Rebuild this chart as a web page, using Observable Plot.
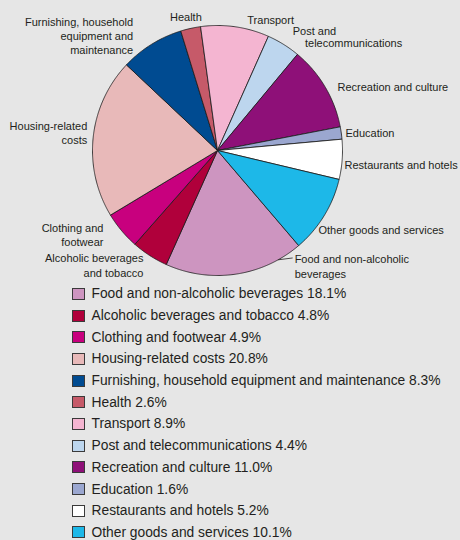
<!DOCTYPE html>
<html><head><meta charset="utf-8">
<script src="https://cdn.jsdelivr.net/npm/d3@7"></script>
<script src="https://cdn.jsdelivr.net/npm/@observablehq/plot@0.6"></script>
<style>
html,body{margin:0;padding:0;background:#e6e6e6;}
#chart{width:460px;}
#chart svg{display:block;background:#e6e6e6;}
#legend{font-family:"Liberation Sans",Arial,sans-serif;font-size:13.8px;color:#231f20;}
.row{display:flex;align-items:center;height:21.7px;padding-left:72px;}
.sw{width:13px;height:12px;box-sizing:border-box;border:1px solid #3a3a3a;margin-right:6.5px;flex:none;}
</style></head><body>
<div id="chart"></div>
<div id="legend"></div>
<script>
const categories = ["Food and non-alcoholic beverages","Alcoholic beverages and tobacco","Clothing and footwear","Housing-related costs","Furnishing, household equipment and maintenance","Health","Transport","Post and telecommunications","Recreation and culture","Education","Restaurants and hotels","Other goods and services"];
const shares = [18.1, 4.8, 4.9, 20.8, 8.3, 2.6, 8.9, 4.4, 11.0, 1.6, 5.2, 10.1];
const colors = ["#cd95c0","#b0003b","#c8007e","#e8b9b9","#004b91","#c65a69","#f4b5d1","#bdd6ee","#8e1078","#9ba7d0","#ffffff","#1db8e8"];
const pieLabels = ["Food and non-alcoholic\nbeverages","Alcoholic beverages\nand tobacco","Clothing and\nfootwear","Housing-related\ncosts","Furnishing, household\nequipment and\nmaintenance","Health","Transport","Post and\n\u00a0\u00a0\u00a0\u00a0telecommunications","Recreation and culture","Education","Restaurants and hotels","Other goods and services"];

// layout
const W = 460, H = 283, cx = 217, cy = 150, R = 125, startDeg = 139.5, labelR = 133;
const labelLayout = [
  {anchor:"start", dx:58.3, dy:-16.2, leaderDeg:151},
  {anchor:"end", dx:-2, dy:2.7},
  {anchor:"end", dx:-12, dy:-1.5},
  {anchor:"end", dx:2, dy:-4},
  {anchor:"end", dx:-14, dy:-2},
  {anchor:"middle", dx:-3, dy:-4},
  {anchor:"start", dx:11, dy:0},
  {anchor:"tight", dx:5, dy:-0.5},
  {anchor:"start", dx:5.5, dy:3.7},
  {anchor:"start", dx:-3.7, dy:0},
  {anchor:"start", dx:-5.6, dy:4.5},
  {anchor:"start", dx:-12.5, dy:9.7}
];

const rad = d => d * Math.PI / 180;
const polar = (deg, r) => [r * Math.sin(rad(deg)), -r * Math.cos(rad(deg))];
const total = d3.sum(shares);
let acc = 0;
const slices = categories.map((name, i) => {
  const a0 = startDeg + acc / total * 360; acc += shares[i];
  const a1 = startDeg + acc / total * 360;
  return {name, i, a0, a1, mid: (a0 + a1) / 2};
});
const pts = [];
for (const s of slices) {
  pts.push({name: s.name, x: 0, y: 0});
  const n = Math.max(2, Math.ceil((s.a1 - s.a0) / 0.5));
  for (let k = 0; k <= n; k++) {
    const [x, y] = polar(s.a0 + (s.a1 - s.a0) * k / n, 1);
    pts.push({name: s.name, x, y});
  }
  pts.push({name: s.name, x: 0, y: 0});
}
const labels = slices.map((s, i) => {
  const [x, y] = polar(s.mid, labelR / R);
  const L = labelLayout[i];
  return {text: pieLabels[i], anchor: L.anchor, x: x + L.dx / R, y: y + L.dy / R, leaderDeg: L.leaderDeg};
});
const leaders = labels.filter(d => d.leaderDeg != null).map(d => {
  const [x1, y1] = polar(d.leaderDeg, 1);
  return {x1, y1, x2: d.x - 2 / R, y2: d.y - 8 / R};
});
const font = '"Liberation Sans", Arial, sans-serif';
const textOpts = (anchor, lh) => ({x: "x", y: "y", text: "text", textAnchor: anchor, fontSize: 11, fill: "#231f20", lineHeight: lh, fontFamily: font});

const chart = Plot.plot({
  width: W, height: H,
  margin: 0,
  style: {background: "#e6e6e6", fontFamily: font},
  x: {domain: [-cx / R, (W - cx) / R], range: [0, W], axis: null},
  y: {domain: [-cy / R, (H - cy) / R], range: [0, H], axis: null},
  color: {domain: categories, range: colors},
  marks: [
    Plot.line(pts, {x: "x", y: "y", z: "name", fill: "name", stroke: "#1a1a1a", strokeWidth: 0.8, curve: "linear", strokeLinejoin: "round"}),
    Plot.link(leaders, {x1: "x1", y1: "y1", x2: "x2", y2: "y2", stroke: "#231f20", strokeWidth: 0.8}),
    Plot.text(labels.filter(d => d.anchor === "start"), textOpts("start", 1.35)),
    Plot.text(labels.filter(d => d.anchor === "end"), textOpts("end", 1.3)),
    Plot.text(labels.filter(d => d.anchor === "middle"), textOpts("middle", 1.3)),
    Plot.text(labels.filter(d => d.anchor === "tight"), textOpts("start", 1.05))
  ]
});
document.getElementById("chart").appendChild(chart);

const leg = document.getElementById("legend");
categories.forEach((c, i) => {
  const row = document.createElement("div"); row.className = "row";
  const sw = document.createElement("span"); sw.className = "sw"; sw.style.background = colors[i];
  const t = document.createElement("span"); t.textContent = `${c} ${shares[i].toFixed(1)}%`;
  row.appendChild(sw); row.appendChild(t); leg.appendChild(row);
});
</script>
</body></html>
